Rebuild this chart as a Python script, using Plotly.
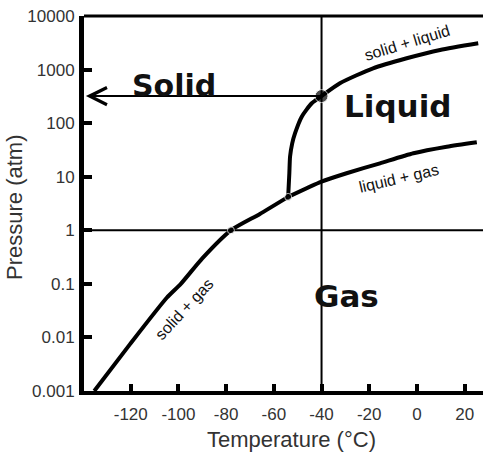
import numpy as np
import plotly.graph_objects as go

# ---- data (temperature in °C, pressure in atm) ----
solid_gas_T = [-135.3, -120.3, -104.9, -99.0, -90.0, -78.0, -66.0, -54.0]
solid_gas_P = [0.001, 0.0075, 0.055, 0.1, 0.3, 1.0, 2.0, 4.2]

solid_liquid_T = [-54.0, -53.5, -53.2, -52.3, -51.1, -48.3, -44.1, -40.0, -32.3, -18.4, -4.3, 9.7, 25.7]
solid_liquid_P = [4.2, 11.6, 23.7, 42.0, 65.0, 132.0, 235.0, 320.0, 555.0, 1057.0, 1625.0, 2323.0, 3097.0]

liquid_gas_T = [-54.0, -40.0, -29.5, -15.5, -1.5, 12.5, 25.1]
liquid_gas_P = [4.2, 8.1, 11.6, 17.8, 27.4, 36.3, 44.0]

point_T = [-78.0, -54.0, -40.0]
point_P = [1.0, 4.2, 320.0]
point_size = [7, 7, 13]

x_tickvals = [-120, -100, -80, -60, -40, -20, 0, 20]
x_ticktext = ["-120", "-100", "-80", "-60", "-40", "-20", "0", "20"]
y_tickvals = [0.001, 0.01, 0.1, 1, 10, 100, 1000, 10000]
y_ticktext = ["0.001", "0.01", "0.1", "1", "10", "100", "1000", "10000"]

x_range = [-139.6, 27.7]
ref_T = -40.0
ref_P = 1.0
arrow_P = 320.0
arrow_tip_T = -138.8

fig = go.Figure()

# reference lines
fig.add_trace(go.Scatter(x=[ref_T, ref_T], y=[0.001, 10000], mode="lines",
                         line=dict(color="black", width=2), hoverinfo="skip"))
fig.add_trace(go.Scatter(x=x_range, y=[ref_P, ref_P], mode="lines",
                         line=dict(color="black", width=2), hoverinfo="skip"))

for T, P in [(solid_gas_T, solid_gas_P), (solid_liquid_T, solid_liquid_P), (liquid_gas_T, liquid_gas_P)]:
    fig.add_trace(go.Scatter(x=T, y=P, mode="lines",
                             line=dict(color="black", width=4, shape="spline", smoothing=0.6)))

fig.add_trace(go.Scatter(x=point_T, y=point_P, mode="markers",
                         marker=dict(color="black", size=point_size)))

# arrow from (-40, 320) to left
fig.add_annotation(x=arrow_tip_T, y=np.log10(arrow_P), xref="x", yref="y",
                   ax=ref_T, axref="x", ay=0, ayref="pixel",
                   showarrow=True, arrowhead=5, arrowsize=1.7, arrowwidth=2,
                   arrowcolor="black", text="")

# top frame line
fig.add_shape(type="line", xref="paper", yref="paper", x0=0, x1=1, y0=1, y1=1,
              line=dict(color="black", width=3))

big = dict(family="DejaVu Sans", size=30, color="#111111")
small = dict(family="Arial", size=16, color="#111111")
title_font = dict(family="Arial", size=22, color="#333333")

def ann(text, x, y, font, angle=0):
    fig.add_annotation(text=text, x=x, y=y, xref="paper", yref="paper",
                       showarrow=False, font=font, textangle=angle,
                       xanchor="center", yanchor="middle")

ann("<b>Solid</b>", 0.2256, 0.816, big)
ann("<b>Liquid</b>", 0.7857, 0.76, dict(big, size=31))
ann("<b>Gas</b>", 0.658, 0.2533, dict(big, size=31))
ann("solid + liquid", 0.812, 0.928, small, -17)
ann("liquid + gas", 0.787, 0.568, small, -13)
ann("solid + gas", 0.253, 0.2187, small, -47)
ann("Temperature (°C)", 0.519, -0.128, title_font)
ann("Pressure (atm)", -0.173, 0.4907, title_font, -90)

tick_font = dict(family="Arial", size=17, color="#333333")

fig.update_xaxes(range=x_range, tickvals=x_tickvals, ticktext=x_ticktext,
                 ticks="inside", ticklen=7, tickwidth=4, tickcolor="black",
                 showline=True, linewidth=4, linecolor="black",
                 showgrid=False, zeroline=False, tickfont=tick_font,
                 ticklabelstandoff=5, automargin=False)
fig.update_yaxes(type="log", range=[-3, 4], tickvals=y_tickvals, ticktext=y_ticktext,
                 ticks="inside", ticklen=8, tickwidth=4, tickcolor="black",
                 showline=True, linewidth=5, linecolor="black",
                 showgrid=False, zeroline=False, tickfont=tick_font,
                 ticklabelstandoff=1, automargin=False)

fig.update_layout(width=483, height=459, showlegend=False,
                  margin=dict(l=84, r=0, t=16, b=68),
                  paper_bgcolor="white", plot_bgcolor="white")

fig.write_html("out.html", config={"displayModeBar": False},
               post_script="document.body.style.margin='0px';")
